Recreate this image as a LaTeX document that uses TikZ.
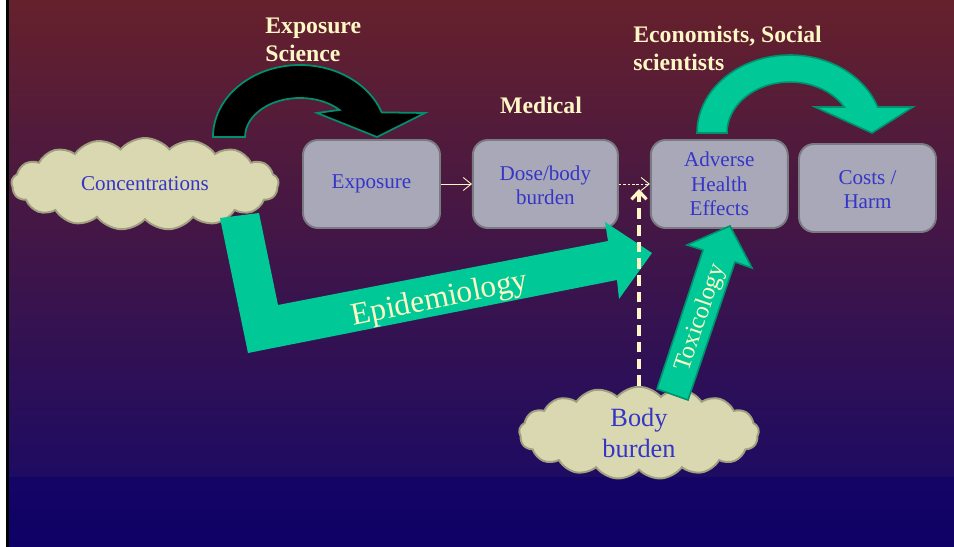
\documentclass[tikz,border=0pt]{standalone}
\usepackage{fontspec}
\setmainfont{Liberation Serif}
\usetikzlibrary{arrows.meta,positioning,shapes.symbols}
\definecolor{bgtop}{HTML}{66212C}
\definecolor{bgmid}{HTML}{4A1A4C}
\definecolor{bgbot}{HTML}{1E0B62}
\definecolor{bgdeep}{HTML}{0E0066}
\definecolor{boxfill}{HTML}{A9A8B8}
\definecolor{boxline}{HTML}{7A7A82}
\definecolor{inkblue}{HTML}{3535C8}
\definecolor{cloudfill}{HTML}{D9D8B0}
\definecolor{cloudline}{HTML}{A09F80}
\definecolor{cream}{HTML}{FFF8C6}
\definecolor{flowteal}{HTML}{00C896}
\definecolor{tealedge}{HTML}{00906E}

\begin{document}
\begin{tikzpicture}[
  x=0.02cm, y=-0.02cm,
  stage/.style={draw=boxline,line width=1.1pt,fill=boxfill,rounded corners=0.3cm,minimum width=2.74cm,minimum height=1.76cm,align=center,text=inkblue,font=\fontsize{12}{14}\selectfont},
  puff/.style={cloud,cloud puffs=17,cloud puff arc=100,cloud ignores aspect,inner sep=1pt,draw=cloudline,line width=1.1pt,fill=cloudfill,text=inkblue,align=center},
  field/.style={text=cream,inner sep=0pt,align=left,font=\fontsize{13.5}{16}\selectfont\bfseries},
  band/.style={fill=flowteal},
  link/.style={draw=cream,line width=0.5pt,-{Straight Barb[length=1.6mm,width=2.6mm]}},
  uplink/.style={draw=cream,line width=1.8pt,dash pattern=on 6pt off 3.5pt,-{Straight Barb[length=1.6mm,width=3mm]}}
]
\useasboundingbox (0,0) rectangle (954,547);
% backdrop
\fill[white] (0,0) rectangle (954,547);
\fill[black] (6,0) rectangle (9,547);
\shade[top color=bgtop,middle color=bgmid,bottom color=bgbot] (9,0) rectangle (954,477);
\shade[top color=bgbot!40!bgdeep,bottom color=bgdeep] (9,477) rectangle (954,547);

% clouds and stages
\node[puff,minimum width=5.35cm,minimum height=1.84cm,font=\fontsize{12}{14}\selectfont] (conc) at (145,184) {Concentrations};
\node[stage] (exp) at (371.5,184) {\strut Exposure};
\node[stage,minimum width=2.9cm,right=0.62cm of exp] (dose) {\strut Dose/body\\burden};
\node[stage,right=0.62cm of dose] (adv) {Adverse\\Health\\Effects};
\node[stage] (cost) at (867.5,188) {\strut Costs /\\Harm};
\node[puff,minimum width=4.8cm,minimum height=1.85cm,font=\fontsize{15}{18}\selectfont] (body) at (639,433) {Body\\burden};

% disciplines
\node[field,anchor=north west] (expsci) at (265,18) {Exposure\\Science};
\node[field] (med) at (541,105) {Medical};
\node[field,anchor=north west] (econ) at (633,26) {Economists, Social\\scientists};

% curved arrows over the chain
\filldraw[fill=black,draw=tealedge,line width=1pt]
  (213,137) arc[start angle=180,end angle=340,x radius=87,y radius=72]
  -- (425,113) -- (377,137) -- (317,113) -- (339.6,109.9)
  arc[start angle=316,end angle=180,x radius=55,y radius=39] -- cycle;
\filldraw[fill=flowteal,draw=tealedge,line width=0.9pt]
  (697,133) arc[start angle=180,end angle=340.5,x radius=93,y radius=78]
  -- (913,107) -- (872,133) -- (815,107) -- (844.2,107)
  arc[start angle=329.3,end angle=180,x radius=63,y radius=51] -- cycle;

% epidemiology and toxicology
\fill[band] (220,218) -- (259,213) -- (278,305) -- (608,241) -- (605,222)
  -- (652,253) -- (619,299) -- (617,280) -- (248,353) -- cycle;
\node[text=cream,rotate=11.5,font=\fontsize{18}{21}\selectfont] (epi) at (440,300) {Epidemiology};
\filldraw[band,draw=tealedge,line width=0.9pt] (657,389) -- (703,250) -- (687,245)
  -- (730,226) -- (752,268) -- (735,262) -- (688,400) -- cycle;
\node[text=cream,rotate=71,font=\fontsize{14}{16}\selectfont] (tox) at (701,318) {Toxicology};

% chain links
\draw[link] (exp) -- (dose);
\draw[link,dash pattern=on 1.5pt off 1pt] (dose) -- (adv);
\coordinate (meet) at (639,189);
\draw[uplink] (body.north) -- (meet);
\end{tikzpicture}
\end{document}
